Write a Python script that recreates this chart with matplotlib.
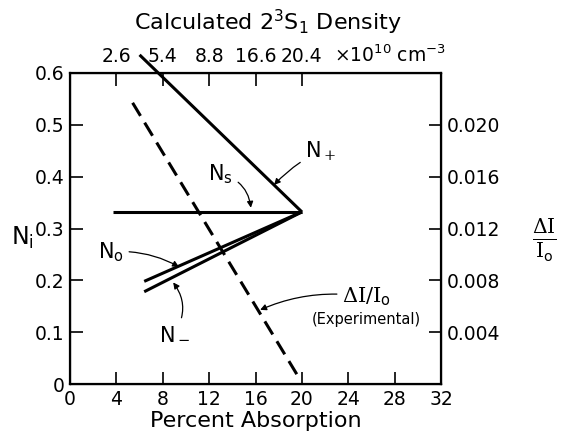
import matplotlib
matplotlib.use("Agg")
import matplotlib.pyplot as plt

# Percent absorption (bottom axis) vs relative populations N_i (left axis)
pct_s = [3.7, 20.0]
n_s = [0.332, 0.332]
pct_plus = [6.0, 20.0]
n_plus = [0.635, 0.332]
pct_o = [6.4, 20.0]
n_o = [0.198, 0.332]
pct_minus = [6.4, 20.0]
n_minus = [0.178, 0.332]

# experimental Delta I / I_o (right axis)
pct_exp = [5.4, 19.6]
di_exp = [0.0217, 0.0007]

x_ticks = [0, 4, 8, 12, 16, 20, 24, 28, 32]
y_ticks = [0, 0.1, 0.2, 0.3, 0.4, 0.5, 0.6]
y_labels = ["0", "0.1", "0.2", "0.3", "0.4", "0.5", "0.6"]
r_ticks = [0.004, 0.008, 0.012, 0.016, 0.020]
r_labels = ["0.004", "0.008", "0.012", "0.016", "0.020"]
top_ticks = [4, 8, 12, 16, 20]
top_labels = ["2.6", "5.4", "8.8", "16.6", "20.4"]

plt.rcParams["font.family"] = ["DejaVu Sans"]
plt.rcParams["mathtext.fontset"] = "custom"
plt.rcParams["mathtext.rm"] = "DejaVu Serif"
plt.rcParams["mathtext.it"] = "DejaVu Sans:italic"
plt.rcParams["mathtext.sf"] = "DejaVu Sans"

W, H = 572, 442
fig = plt.figure(figsize=(W / 100, H / 100), dpi=100)
left, right, top, bottom = 70, 441, 73, 384
ax = fig.add_axes([left / W, 1 - bottom / H, (right - left) / W, (bottom - top) / H])

lw = 2.2
ax.plot(pct_s, n_s, color="k", lw=lw, solid_capstyle="butt")
ax.plot(pct_plus, n_plus, color="k", lw=lw, clip_on=False, solid_capstyle="butt")
ax.plot(pct_o, n_o, color="k", lw=lw, solid_capstyle="butt")
ax.plot(pct_minus, n_minus, color="k", lw=lw, solid_capstyle="butt")

ax.set_xlim(0, 32)
ax.set_ylim(0, 0.6)
ax.set_xticks(x_ticks)
ax.set_yticks(y_ticks)
ax.set_yticklabels(y_labels)
ax.tick_params(direction="in", length=9, width=1.2, labelsize=13.5, pad=4)
for s in ax.spines.values():
    s.set_linewidth(1.6)

ax2 = ax.twinx()
ax2.plot(pct_exp, di_exp, color="k", lw=lw, dashes=(5, 2.6))
ax2.set_ylim(0, 0.024)
ax2.set_yticks(r_ticks)
ax2.set_yticklabels(r_labels)
ax2.tick_params(direction="in", length=9, width=1.2, labelsize=13.5, pad=4)

ax3 = ax.twiny()
ax3.set_xlim(0, 32)
ax3.set_xticks(top_ticks)
ax3.set_xticklabels(top_labels)
ax3.tick_params(direction="in", length=9, width=1.2, labelsize=13.5, pad=5)

ax.set_xlabel("Percent Absorption", fontsize=16, labelpad=2)
fig.text(268 / W, 1 - 22 / H, r"Calculated 2$^\mathregular{3}$S$_\mathregular{1}$ Density",
         fontsize=16, ha="center", va="center")
ax.annotate(r"$\times$10$^\mathregular{10}$ cm$^\mathregular{-3}$", xy=(27.6, 1.0),
            xycoords=("data", "axes fraction"), xytext=(0, 5), textcoords="offset points",
            ha="center", va="bottom", fontsize=13.5)
fig.text(22 / W, 1 - 238 / H, r"N$_\mathregular{i}$", fontsize=17, ha="center", va="center")
fig.text(544 / W, 1 - 240 / H, r"$\frac{\Delta\mathrm{I}}{\mathrm{I}_\mathsf{o}}$", fontsize=21,
         ha="center", va="center")

arrow = dict(arrowstyle="-|>", color="k", lw=0.9, mutation_scale=9, shrinkA=2, shrinkB=0)
lab = dict(fontsize=15, va="center")

ax.annotate(r"N$_+$", xy=(17.6, 0.384), xytext=(20.3, 0.45), ha="left",
            arrowprops=dict(arrow, connectionstyle="arc3,rad=0.1"), **lab)
ax.annotate(r"N$_\mathregular{s}$", xy=(15.6, 0.34), xytext=(13.0, 0.405), ha="center",
            arrowprops=dict(arrow, connectionstyle="arc3,rad=-0.35"), **lab)
ax.annotate(r"N$_\mathregular{o}$", xy=(9.4, 0.226), xytext=(3.5, 0.255), ha="center",
            arrowprops=dict(arrow, connectionstyle="arc3,rad=-0.15"), **lab)
ax.annotate(r"N$_-$", xy=(8.9, 0.196), xytext=(9.0, 0.098), ha="center",
            arrowprops=dict(arrow, connectionstyle="arc3,rad=0.35"), **lab)
ax.annotate(r"$\Delta\mathrm{I}/\mathrm{I}_\mathsf{o}$", xy=(16.4, 0.143), xytext=(23.5, 0.168),
            ha="left", arrowprops=dict(arrow, connectionstyle="arc3,rad=0.15"), **lab)
ax.text(25.6, 0.124, "(Experimental)", ha="center", va="center", fontsize=10.5)

fig.savefig("out.png", dpi=100)
